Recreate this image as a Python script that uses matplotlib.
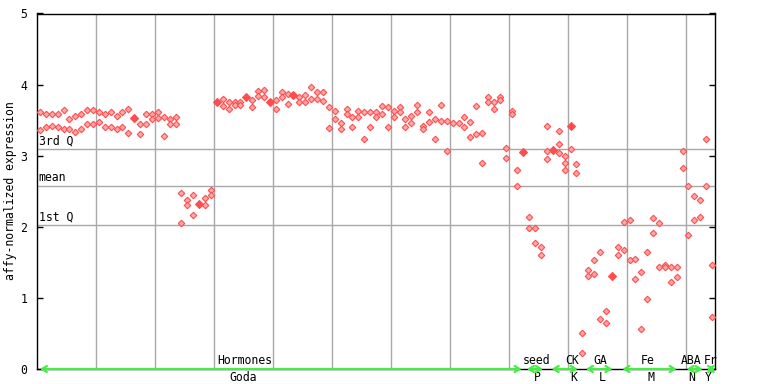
import matplotlib

matplotlib.use("Agg")
import matplotlib.pyplot as plt

# replicate values for each array, left to right
expr = [
    [3.62, 3.36], [3.59, 3.40], [3.58, 3.42], [3.58, 3.40], [3.64, 3.38],
    [3.52, 3.37], [3.56, 3.34], [3.58, 3.37], [3.64, 3.45], [3.64, 3.44],
    [3.61, 3.48], [3.59, 3.40], [3.62, 3.41], [3.56, 3.38], [3.61, 3.40],
    [3.65, 3.32], [3.53, 3.53], [3.45, 3.30], [3.59, 3.45], [3.58, 3.52],
    [3.62, 3.53], [3.55, 3.28], [3.52, 3.44], [3.55, 3.45], [2.47, 2.05],
    [2.37, 2.30], [2.45, 2.17], [2.32, 2.32], [2.40, 2.30], [2.52, 2.45],
    [3.75, 3.75], [3.80, 3.70], [3.75, 3.65], [3.75, 3.72], [3.75, 3.72],
    [3.83, 3.83], [3.78, 3.68], [3.91, 3.84], [3.92, 3.82], [3.75, 3.75],
    [3.79, 3.65], [3.89, 3.82], [3.87, 3.73], [3.85, 3.85], [3.83, 3.76],
    [3.86, 3.76], [3.96, 3.80], [3.90, 3.80], [3.89, 3.77], [3.68, 3.39],
    [3.63, 3.51], [3.46, 3.37], [3.65, 3.58], [3.54, 3.41], [3.63, 3.54],
    [3.61, 3.23], [3.62, 3.41], [3.61, 3.54], [3.70, 3.58], [3.68, 3.41],
    [3.63, 3.55], [3.68, 3.62], [3.51, 3.40], [3.56, 3.46], [3.72, 3.62],
    [3.42, 3.37], [3.61, 3.48], [3.51, 3.24], [3.72, 3.49], [3.49, 3.07],
    [3.46], [3.46], [3.55, 3.41], [3.48, 3.27], [3.70, 3.30],
    [3.32, 2.90], [3.83, 3.76], [3.75, 3.65], [3.82, 3.79], [3.11, 2.97],
    [3.63, 3.58], [2.80, 2.58], [3.05, 3.05], [2.14, 1.99], [1.99, 1.77],
    [1.71, 1.60], [3.42, 3.06, 2.96], [3.08, 3.08], [3.35, 3.17, 3.04],
    [2.99, 2.90, 2.80], [3.42, 3.42, 3.10], [2.89, 2.76], [0.50, 0.22],
    [1.39, 1.31], [1.54, 1.34], [1.65, 0.71], [0.82, 0.64], [1.31, 1.31],
    [1.71, 1.61], [2.07, 1.68], [2.09, 1.54], [1.55, 1.26], [1.36, 0.56],
    [1.64, 0.98], [2.12, 1.91], [2.06, 1.44], [1.46, 1.43], [1.44, 1.22],
    [1.43, 1.29], [3.07, 2.83], [2.57, 1.88], [2.44, 2.09], [2.37, 2.14],
    [3.24, 2.57], [1.46, 0.73],
]

quart_names = ["3rd Q", "mean", "1st Q"]
quart_values = [3.10, 2.58, 2.03]

group_top = ["Hormones", "seed", "CK", "GA", "Fe", "ABA", "Fr"]
group_bottom = ["Goda", "P", "K", "L", "M", "N", "Y"]
group_start = [0.5, 83.1, 87.3, 93.1, 99.3, 110.2, 113.6]
group_end = [82.2, 85.8, 91.7, 97.6, 108.5, 112.9, 115.0]
top_centre = [35.3, 84.7, 90.7, 95.6, 103.6, 111.0, 114.2]
bottom_centre = [34.9, 84.9, 91.0, 95.9, 104.1, 111.0, 113.9]

MONO = "DejaVu Sans Mono"
RED = "#ff4d4d"
GRID = "#a8a8a8"
GREEN = "#44ee44"

fig = plt.figure(figsize=(7.68, 3.84), dpi=100)
ax = fig.add_axes([37 / 768, 15 / 384, 678 / 768, 355.5 / 384])

n = len(expr)
ax.set_xlim(0, n)
ax.set_ylim(0, 5)

for x in range(10, n, 10):
    ax.axvline(x, color=GRID, lw=1, zorder=1)
for name, v in zip(quart_names, quart_values):
    ax.axhline(v, color=GRID, lw=1, zorder=1)
    ax.text(0.3, v + 0.02, name, family=MONO, fontsize=8.3, ha="left", va="bottom", zorder=2)

xs_open, ys_open, xs_solid, ys_solid = [], [], [], []
for i, reps in enumerate(expr):
    for j, v in enumerate(reps):
        if reps.count(v) > 1:
            if reps.index(v) == j:
                xs_solid.append(i + 0.5)
                ys_solid.append(v)
        else:
            xs_open.append(i + 0.5)
            ys_open.append(v)

ax.plot(xs_open, ys_open, ls="none", marker="D", ms=3.3, mfc="#ffa8a8",
        mec=RED, mew=0.8, zorder=3)
ax.plot(xs_solid, ys_solid, ls="none", marker="D", ms=3.6, mfc=RED,
        mec=RED, mew=0.8, zorder=3)

for s, e in zip(group_start, group_end):
    ax.annotate("", xy=(e, 0), xytext=(s, 0), xycoords="data",
                arrowprops=dict(arrowstyle="<->,head_length=0.35,head_width=0.22",
                                color=GREEN, lw=1.6, mutation_scale=10,
                                shrinkA=0, shrinkB=0),
                annotation_clip=False, zorder=5)
for lab, c in zip(group_top, top_centre):
    ax.annotate(lab, (c, 0), xytext=(0, 1.5), textcoords="offset points",
                family=MONO, fontsize=8.3, ha="center", va="bottom",
                annotation_clip=False)
for lab, c in zip(group_bottom, bottom_centre):
    ax.annotate(lab, (c, 0), xytext=(0, -1.5), textcoords="offset points",
                family=MONO, fontsize=8.3, ha="center", va="top",
                annotation_clip=False)

ax.set_xticks([])
ax.set_yticks(range(6))
ax.set_yticklabels([str(t) for t in range(6)], family=MONO, fontsize=8.3)
ax.tick_params(axis="y", direction="in", length=4, width=1, pad=7,
               right=True, left=True)
for sp in ax.spines.values():
    sp.set_linewidth(1)
    sp.set_color("black")

fig.text(11 / 768, 0.503, "affy-normalized expression", rotation=90,
         family=MONO, fontsize=8.3, ha="center", va="center")

fig.savefig("out.png", dpi=100)
